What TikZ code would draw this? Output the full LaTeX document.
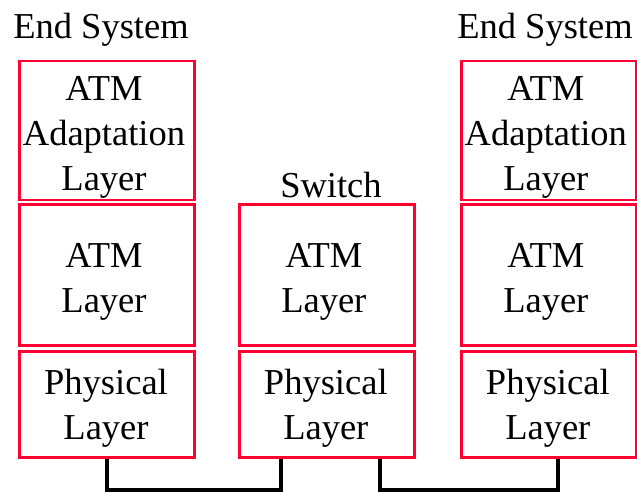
\documentclass[tikz,border=0pt]{standalone}
\usepackage{fontspec}
\setmainfont{Liberation Serif}
\usetikzlibrary{calc}
\definecolor{atmred}{RGB}{255,0,51}
\tikzset{
  layer/.style={draw=atmred, line width=2.7pt, minimum width=175pt, inner sep=0pt},
  words/.style={inner sep=0pt, align=center, font=\fontsize{36.5}{45}\selectfont},
  title/.style={anchor=base, inner sep=0pt, font=\fontsize{36.5}{45}\selectfont},
  link/.style={line width=4pt}
}
\begin{document}
\begin{tikzpicture}[x=1pt,y=-1pt]
\useasboundingbox (0,0) rectangle (637,491);
% end system, left
\node[title] (lname) at (101,38) {End System};
\node[layer, minimum height=139pt] (laal) at (107,130.4) {};
\node[layer, minimum height=141pt] (latm) at (107,275) {};
\node[layer, minimum height=106pt] (lphy) at (107,404.7) {};
\node[words] (laalt) at ($(laal)+(-3,7)$) {ATM\\Adaptation\\Layer};
\node[words] (latmt) at ($(latm)+(-3,6.5)$) {ATM\\Layer};
\node[words] (lphyt) at ($(lphy)+(-1,3.5)$) {Physical\\Layer};
% switch
\node[title] (sname) at (331,197) {Switch};
\node[layer, minimum height=141pt] (satm) at (326.8,275.3) {};
\node[layer, minimum height=106pt] (sphy) at (326.8,404.7) {};
\node[words] (satmt) at ($(satm)+(-3,6.5)$) {ATM\\Layer};
\node[words] (sphyt) at ($(sphy)+(-1,3.5)$) {Physical\\Layer};
% end system, right
\node[title] (rname) at (545,38) {End System};
\node[layer, minimum height=139pt] (raal) at (548.8,130.4) {};
\node[layer, minimum height=141pt] (ratm) at (548.8,275) {};
\node[layer, minimum height=106pt] (rphy) at (548.8,404.7) {};
\node[words] (raalt) at ($(raal)+(-3,7)$) {ATM\\Adaptation\\Layer};
\node[words] (ratmt) at ($(ratm)+(-3,6.5)$) {ATM\\Layer};
\node[words] (rphyt) at ($(rphy)+(-1,3.5)$) {Physical\\Layer};
% links
\coordinate (l1) at (lphy.south);
\coordinate (s1) at ($(sphy.south)+(-45.5,0)$);
\coordinate (s2) at ($(sphy.south)+(53.5,0)$);
\coordinate (r1) at ($(rphy.south)+(8.7,0)$);
\draw[link] (l1) -- ++(0,31) -| (s1);
\draw[link] (s2) -- ++(0,31) -| (r1);
\end{tikzpicture}
\end{document}
